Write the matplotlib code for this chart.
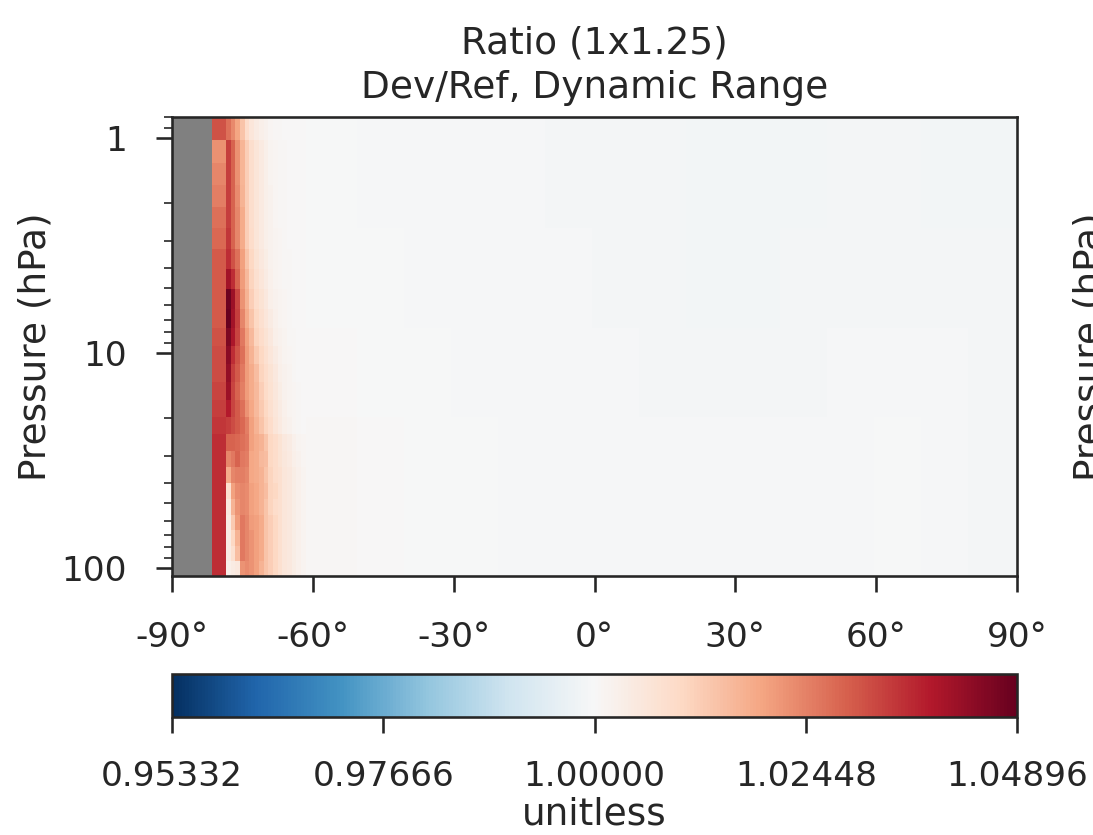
import numpy as np
import matplotlib
matplotlib.use("Agg")
import matplotlib.pyplot as plt
import matplotlib.colors as mcolors
from matplotlib.ticker import NullFormatter, LogLocator
import seaborn as sns

sns.set_style("ticks")
sns.set_context("talk")
plt.rcParams["font.family"] = ["DejaVu Sans"]

# ---------------- data ----------------
# pressure level edges (hPa), top -> bottom
p_edges = [0.7951, 1.0194, 1.3005, 1.6508, 2.0850, 2.6202, 3.2764, 4.0766,
           5.0468, 6.2168, 7.6198, 9.2929, 11.2769, 13.6434, 16.4571,
           19.7916, 23.7304, 28.3678, 33.8100, 40.1754, 47.6439, 56.3879,
           66.6034, 78.5123, 92.3657, 108.663]

# latitude edges of the 1x1.25 grid (half-size polar cells)
lat_edges = np.concatenate(([-90.0], np.arange(-89.5, 90.0, 1.0), [90.0]))

# number of missing (gray) cells at the south pole
n_missing = 9

# Ratio values near the Antarctic edge, one row per level (top -> bottom)
# columns: A (3 cells, -81..-79), then -78, -77, ..., -62
ratio_sp = [
    [1.031, 1.027, 1.0235, 1.0195, 1.014, 1.009, 1.006, 1.004, 1.003, 1.002, 1.001, 1.0007, 1.0005, 1.0003, 1.0002, 1.0001, 1.0, 1.0],
    [1.0225, 1.034, 1.029, 1.0225, 1.0165, 1.012, 1.0085, 1.0065, 1.0045, 1.003, 1.0015, 1.001, 1.0007, 1.0005, 1.0003, 1.0002, 1.0001, 1.0],
    [1.024, 1.034, 1.029, 1.0225, 1.0165, 1.012, 1.0085, 1.0065, 1.0045, 1.003, 1.0015, 1.001, 1.0007, 1.0005, 1.0003, 1.0002, 1.0001, 1.0],
    [1.025, 1.034, 1.029, 1.023, 1.017, 1.012, 1.0085, 1.0065, 1.0045, 1.003, 1.002, 1.001, 1.0007, 1.0005, 1.0003, 1.0002, 1.0001, 1.0],
    [1.027, 1.034, 1.029, 1.024, 1.018, 1.012, 1.0085, 1.0065, 1.0045, 1.003, 1.002, 1.001, 1.0007, 1.0005, 1.0003, 1.0002, 1.0001, 1.0],
    [1.028, 1.035, 1.029, 1.024, 1.018, 1.012, 1.009, 1.0065, 1.0045, 1.003, 1.002, 1.0012, 1.0008, 1.0005, 1.0003, 1.0002, 1.0001, 1.0],
    [1.030, 1.036, 1.031, 1.027, 1.020, 1.014, 1.010, 1.007, 1.005, 1.0035, 1.002, 1.0013, 1.0009, 1.0006, 1.0004, 1.0002, 1.0001, 1.0],
    [1.030, 1.041, 1.036, 1.029, 1.021, 1.016, 1.011, 1.008, 1.006, 1.004, 1.0025, 1.0015, 1.001, 1.0007, 1.0004, 1.0002, 1.0001, 1.0],
    [1.030, 1.048, 1.042, 1.033, 1.022, 1.017, 1.012, 1.009, 1.007, 1.005, 1.003, 1.002, 1.0012, 1.0008, 1.0005, 1.0003, 1.0001, 1.0],
    [1.030, 1.049, 1.041, 1.034, 1.024, 1.018, 1.014, 1.010, 1.008, 1.006, 1.004, 1.0025, 1.0015, 1.001, 1.0006, 1.0003, 1.0001, 1.0],
    [1.031, 1.046, 1.040, 1.033, 1.026, 1.020, 1.016, 1.011, 1.009, 1.007, 1.005, 1.003, 1.002, 1.0012, 1.0007, 1.0004, 1.0002, 1.0],
    [1.032, 1.044, 1.036, 1.031, 1.027, 1.021, 1.017, 1.013, 1.010, 1.008, 1.006, 1.004, 1.0025, 1.0015, 1.001, 1.0005, 1.0002, 1.0],
    [1.032, 1.043, 1.034, 1.030, 1.026, 1.021, 1.018, 1.015, 1.011, 1.009, 1.007, 1.005, 1.003, 1.002, 1.0012, 1.0007, 1.0003, 1.0001],
    [1.033, 1.042, 1.033, 1.029, 1.025, 1.021, 1.018, 1.016, 1.012, 1.0095, 1.0075, 1.0055, 1.0035, 1.0022, 1.0014, 1.0008, 1.0004, 1.0002],
    [1.034, 1.039, 1.033, 1.030, 1.027, 1.022, 1.019, 1.016, 1.013, 1.010, 1.008, 1.006, 1.004, 1.0025, 1.0015, 1.0009, 1.0005, 1.0002],
    [1.035, 1.034, 1.032, 1.030, 1.028, 1.025, 1.020, 1.017, 1.014, 1.011, 1.009, 1.0065, 1.0045, 1.003, 1.002, 1.001, 1.0006, 1.0003],
    [1.036, 1.029, 1.029, 1.028, 1.027, 1.026, 1.020, 1.018, 1.017, 1.014, 1.010, 1.009, 1.007, 1.005, 1.004, 1.0025, 1.0015, 1.0008],
    [1.036, 1.024, 1.026, 1.029, 1.026, 1.025, 1.019, 1.018, 1.016, 1.015, 1.010, 1.009, 1.007, 1.0055, 1.0045, 1.003, 1.002, 1.001],
    [1.036, 1.018, 1.024, 1.025, 1.025, 1.024, 1.019, 1.018, 1.017, 1.014, 1.011, 1.009, 1.008, 1.006, 1.005, 1.0035, 1.0025, 1.0015],
    [1.036, 1.008, 1.020, 1.023, 1.024, 1.023, 1.020, 1.019, 1.017, 1.015, 1.011, 1.010, 1.008, 1.006, 1.005, 1.0035, 1.0025, 1.0015],
    [1.036, 1.005, 1.017, 1.022, 1.024, 1.023, 1.020, 1.019, 1.017, 1.014, 1.011, 1.009, 1.008, 1.006, 1.005, 1.0035, 1.0025, 1.0015],
    [1.036, 1.004, 1.013, 1.021, 1.026, 1.024, 1.021, 1.020, 1.018, 1.014, 1.012, 1.010, 1.008, 1.006, 1.005, 1.0035, 1.0025, 1.0015],
    [1.036, 1.004, 1.010, 1.017, 1.026, 1.024, 1.022, 1.020, 1.018, 1.014, 1.012, 1.010, 1.008, 1.006, 1.005, 1.0035, 1.0025, 1.0015],
    [1.036, 1.004, 1.008, 1.015, 1.026, 1.024, 1.022, 1.020, 1.018, 1.014, 1.012, 1.010, 1.008, 1.006, 1.005, 1.0035, 1.0025, 1.0015],
    [1.036, 1.003, 1.004, 1.005, 1.022, 1.023, 1.022, 1.020, 1.017, 1.014, 1.012, 1.010, 1.008, 1.006, 1.005, 1.0035, 1.0025, 1.0015],
]
first_col_cells = 3  # column A spans three grid cells

# near-unity background ratio by 10-degree band (-60 .. 90), grouped by 5 levels
bg_band_starts = [-60, -50, -40, -30, -20, -10, 0, 10, 20, 30, 40, 50, 60, 70, 80]
ratio_bg = [
    [0.9998, 0.9996, 0.9995, 0.9994, 0.9993, 0.9992, 0.9991, 0.9990, 0.9989, 0.9988, 0.9989, 0.9990, 0.9990, 0.9989, 0.9988],
    [0.9999, 0.9997, 0.9996, 0.9995, 0.9994, 0.9993, 0.9992, 0.9991, 0.9989, 0.9989, 0.9990, 0.9991, 0.9992, 0.9991, 0.9990],
    [1.0000, 0.9998, 0.9997, 0.9996, 0.9995, 0.9994, 0.9993, 0.9992, 0.9992, 0.9992, 0.9992, 0.9993, 0.9994, 0.9993, 0.9991],
    [1.0004, 1.0001, 0.9998, 0.9997, 0.9996, 0.9995, 0.9994, 0.9993, 0.9993, 0.9993, 0.9993, 0.9995, 0.9997, 0.9994, 0.9991],
    [1.0006, 1.0002, 0.9999, 0.9997, 0.9996, 0.9995, 0.9994, 0.9993, 0.9993, 0.9993, 0.9993, 0.9995, 0.9997, 0.9994, 0.9990],
]
levels_per_group = 5

vmin, vcenter, vmax = 0.95332, 1.0, 1.04896
cbar_ticks = [0.95332, 0.97666, 1.00000, 1.02448, 1.04896]
cbar_ticklabels = ["0.95332", "0.97666", "1.00000", "1.02448", "1.04896"]
xticks = [-90, -60, -30, 0, 30, 60, 90]
xticklabels = ["-90°", "-60°", "-30°", "0°", "30°", "60°", "90°"]
yticks = [1, 10, 100]
yticklabels = ["1", "10", "100"]

# ---------------- assemble grid ----------------
nlev = len(p_edges) - 1
nlat = len(lat_edges) - 1
lat_centers = 0.5 * (lat_edges[:-1] + lat_edges[1:])
Z = np.full((nlev, nlat), np.nan)
sp = np.array(ratio_sp)
for k in range(first_col_cells):
    Z[:, n_missing + k] = sp[:, 0]
start = n_missing + first_col_cells
for j in range(1, sp.shape[1]):
    Z[:, start + j - 1] = sp[:, j]
bg_start = start + sp.shape[1] - 1
bands = np.array(bg_band_starts)
for c in range(bg_start, nlat):
    b = max(0, np.searchsorted(bands, lat_centers[c], side="right") - 1)
    for r in range(nlev):
        Z[r, c] = ratio_bg[r // levels_per_group][b]

# ---------------- plot ----------------
fig = plt.figure(figsize=(1093 / 150, 835 / 150), dpi=150)
ax = fig.add_axes([172 / 1093, (835 - 576) / 835, 845 / 1093, 459.4 / 835])
ax.set_facecolor("#808080")

norm = mcolors.TwoSlopeNorm(vmin=vmin, vcenter=vcenter, vmax=vmax)
mesh = ax.pcolormesh(lat_edges, p_edges, Z, cmap="RdBu_r", norm=norm, shading="flat")

ax.set_yscale("log")
ax.set_ylim(p_edges[-1], p_edges[0])
ax.set_xlim(-90, 90)
ax.set_xticks(xticks)
ax.set_xticklabels(xticklabels)
ax.set_yticks(yticks)
ax.set_yticklabels(yticklabels)
ax.yaxis.set_minor_locator(LogLocator(base=10, subs=np.arange(2, 10)))
ax.yaxis.set_minor_formatter(NullFormatter())

lw = 1.25
for s in ax.spines.values():
    s.set_linewidth(lw)
ax.tick_params(which="major", length=7.5, width=lw, labelsize=16.5, pad=14)
ax.tick_params(which="minor", length=3.8, width=0.8)

ax.set_ylabel("Pressure (hPa)", fontsize=18, labelpad=4)
ax.set_title("Ratio (1x1.25)\nDev/Ref, Dynamic Range", fontsize=18, pad=9,
             linespacing=1.3)

cax = fig.add_axes([172 / 1093, (835 - 717) / 835, 845 / 1093, 43 / 835])
cb = fig.colorbar(mesh, cax=cax, orientation="horizontal")
cb.set_ticks(cbar_ticks)
cb.set_ticklabels(cbar_ticklabels)
cb.outline.set_linewidth(lw)
cax.tick_params(which="major", length=7.5, width=lw, labelsize=16.5, pad=13)
cax.minorticks_off()
cb.set_label("unitless", fontsize=18, labelpad=2)

# y label of the neighbouring panel, cut off at the figure edge
fig.text(1072 / 1093, 1 - 346.3 / 835, "Pressure (hPa)", rotation=90,
         ha="left", va="center", fontsize=18, color=".15")

fig.savefig("out.png", dpi=150)
